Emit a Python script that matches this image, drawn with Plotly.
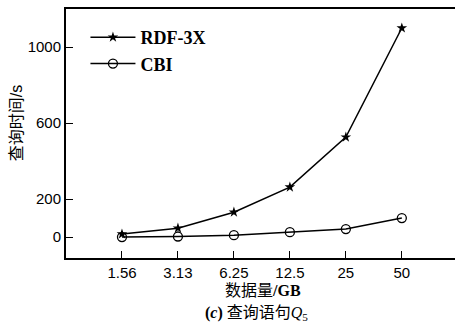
import plotly.graph_objects as go

categories = ["1.56", "3.13", "6.25", "12.5", "25", "50"]
rdf3x = [16, 47, 131, 263, 526, 1100]
cbi = [0, 3, 10, 26, 42, 100]
y_ticks = [0, 200, 600, 1000]

fig = go.Figure()
fig.add_trace(go.Scatter(
    x=list(range(len(categories))), y=rdf3x, name="<b>RDF-3X</b>", mode="lines+markers",
    line=dict(color="black", width=1.5),
    marker=dict(symbol="star", size=8, color="black"),
))
fig.add_trace(go.Scatter(
    x=list(range(len(categories))), y=cbi, name="<b>CBI</b>", mode="lines+markers",
    line=dict(color="black", width=1.5),
    marker=dict(symbol="circle-open", size=9, color="black", line=dict(width=1.3)),
))

fig.update_layout(
    width=455, height=327,
    margin=dict(l=66, r=0, t=9, b=69, autoexpand=False),
    plot_bgcolor="white", paper_bgcolor="white",
    showlegend=True,
    legend=dict(x=0.05, y=0.96, xanchor="left", yanchor="top", itemwidth=45,
                font=dict(family="Liberation Serif", size=18, color="black"),
                bgcolor="rgba(0,0,0,0)", tracegroupgap=0),
    font=dict(family="Liberation Sans", size=15, color="black"),
)
fig.update_xaxes(
    range=[-1, 5.95], tickmode="array", tickvals=list(range(len(categories))),
    ticktext=categories, ticks="inside", ticklen=7, tickcolor="black",
    showline=True, linecolor="black", linewidth=2, mirror=True,
    showgrid=False, zeroline=False, automargin=False,
    tickfont=dict(family="Liberation Sans", size=15),
)
fig.update_yaxes(
    range=[-110, 1200], tickmode="array", tickvals=y_ticks,
    ticks="inside", ticklen=7, tickcolor="black",
    showline=True, linecolor="black", linewidth=2,
    showgrid=False, zeroline=False, automargin=False,
    tickfont=dict(family="Liberation Sans", size=15),
)
fig.add_annotation(
    text="查询时间/s", xref="paper", yref="paper", x=-0.128, y=0.542,
    xanchor="center", yanchor="middle", showarrow=False, textangle=-90,
    font=dict(family="Liberation Sans, Noto Sans CJK SC", size=16, color="black"),
)
fig.add_annotation(
    text="数据量<b>/GB</b>", xref="paper", yref="paper", x=0.506, y=-0.09,
    xanchor="center", yanchor="top", showarrow=False,
    font=dict(family="Liberation Serif, Noto Sans CJK SC", size=16, color="black"),
)
fig.add_annotation(
    text="<b>(<i>c</i>)</b> 查询语句<i>Q</i><sub>5</sub>", xref="paper", yref="paper", x=0.49, y=-0.175,
    xanchor="center", yanchor="top", showarrow=False,
    font=dict(family="Liberation Serif, Noto Sans CJK SC", size=16, color="black"),
)
fig.write_html("out.html", config={"displayModeBar": False},
               post_script="document.body.style.margin='0px';document.body.style.overflow='hidden';")
